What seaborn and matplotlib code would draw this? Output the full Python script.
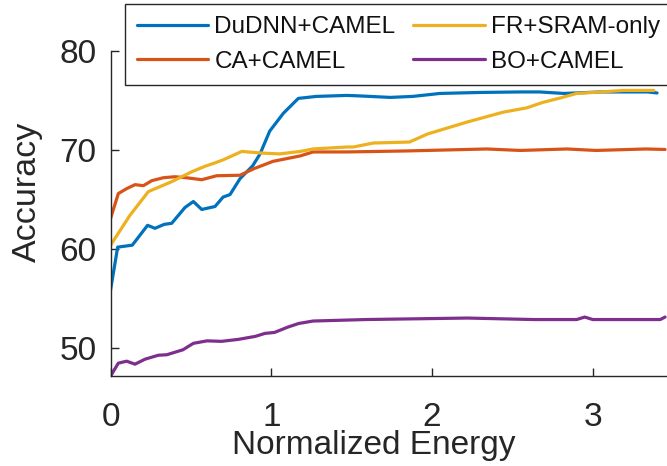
import matplotlib
matplotlib.use("Agg")
import matplotlib.pyplot as plt
import seaborn as sns
import pandas as pd

# Accuracy vs. normalized energy for four design flows
dudnn_x = [0, 0.044, 0.135, 0.23, 0.276, 0.334, 0.38, 0.463, 0.515, 0.567, 0.65, 0.70,
           0.743, 0.805, 0.884, 0.93, 0.99, 1.075, 1.168, 1.28, 1.47, 1.55, 1.74, 1.88,
           2.05, 2.30, 2.55, 2.67, 2.82, 2.90, 3.05, 3.34, 3.40]
dudnn_y = [55.9, 60.2, 60.4, 62.4, 62.1, 62.5, 62.6, 64.2, 64.8, 64.0, 64.3, 65.25,
           65.5, 67.1, 68.4, 69.6, 71.9, 73.7, 75.2, 75.4, 75.5, 75.45, 75.3, 75.4,
           75.7, 75.8, 75.85, 75.85, 75.7, 75.75, 75.85, 75.85, 75.75]

ca_x = [0, 0.048, 0.10, 0.152, 0.204, 0.256, 0.328, 0.40, 0.47, 0.567, 0.66, 0.805,
        0.89, 1.01, 1.18, 1.26, 1.47, 1.84, 2.34, 2.55, 2.84, 3.02, 3.33, 3.45]
ca_y = [63.1, 65.6, 66.1, 66.5, 66.4, 66.9, 67.2, 67.3, 67.2, 67.0, 67.4, 67.45,
        68.1, 68.85, 69.4, 69.8, 69.8, 69.9, 70.1, 69.95, 70.1, 69.95, 70.1, 70.05]

fr_x = [0, 0.12, 0.235, 0.38, 0.505, 0.587, 0.65, 0.70, 0.816, 0.93, 1.05, 1.18, 1.26,
        1.47, 1.51, 1.635, 1.86, 1.97, 2.215, 2.44, 2.59, 2.69, 2.80, 2.90, 3.05, 3.19, 3.38]
fr_y = [60.4, 63.4, 65.8, 66.8, 67.8, 68.35, 68.7, 69.0, 69.85, 69.7, 69.6, 69.85, 70.1,
        70.3, 70.3, 70.7, 70.8, 71.6, 72.8, 73.8, 74.25, 74.8, 75.25, 75.7, 75.85, 76.0, 76.0]

bo_x = [0, 0.048, 0.10, 0.152, 0.214, 0.297, 0.35, 0.45, 0.515, 0.60, 0.69, 0.795, 0.90,
        0.96, 1.02, 1.105, 1.17, 1.26, 1.59, 2.22, 2.63, 2.90, 2.95, 3.00, 3.25, 3.42, 3.45]
bo_y = [47.2, 48.5, 48.7, 48.4, 48.9, 49.3, 49.35, 49.85, 50.5, 50.75, 50.7, 50.9, 51.2,
        51.5, 51.6, 52.15, 52.5, 52.75, 52.9, 53.05, 52.9, 52.9, 53.15, 52.9, 52.9, 52.9, 53.15]

series_names = ["DuDNN+CAMEL", "CA+CAMEL", "FR+SRAM-only", "BO+CAMEL"]
series_colors = ["#0072BD", "#D95319", "#EDB120", "#7E2F8E"]
x_ticks = [0, 1, 2, 3]
y_ticks = [50, 60, 70, 80]

frames = []
for name, xs, ys in zip(series_names,
                        [dudnn_x, ca_x, fr_x, bo_x],
                        [dudnn_y, ca_y, fr_y, bo_y]):
    frames.append(pd.DataFrame({"energy": xs, "accuracy": ys, "method": name}))
df = pd.concat(frames, ignore_index=True)

sns.set_theme(style="ticks")
plt.rcParams["font.family"] = ["Liberation Sans", "DejaVu Sans"]
ink = "#262626"

fig = plt.figure(figsize=(6.67, 4.66), dpi=100)
ax = fig.add_axes([0.1658, 0.193, 0.8342, 0.698])

sns.lineplot(data=df, x="energy", y="accuracy", hue="method",
             hue_order=series_names, palette=series_colors,
             estimator=None, sort=True, linewidth=2.3, ax=ax, legend=False)

ax.set_xlim(0, 3.462)
ax.set_ylim(47.2, 80)
ax.set_xticks(x_ticks)
ax.set_yticks(y_ticks)

for side in ["top", "right"]:
    ax.spines[side].set_visible(False)
for side in ["left", "bottom"]:
    ax.spines[side].set_color(ink)
    ax.spines[side].set_linewidth(1.0)

ax.tick_params(axis="both", direction="in", length=5.5, width=1.0,
               colors=ink, labelsize=24)
ax.tick_params(axis="x", pad=19)
ax.tick_params(axis="y", pad=10)

ax.set_xlabel("Normalized Energy", fontsize=24, color=ink)
ax.set_ylabel("Accuracy", fontsize=24.5, color=ink)
ax.xaxis.set_label_coords(0.473, -0.166)
ax.yaxis.set_label_coords(-0.121, 0.566)

handles = ax.get_lines()[:4]
leg = ax.legend(handles, series_names, ncol=2, loc="upper left",
                bbox_to_anchor=(124.5 / 667, 1 - 4.3 / 466),
                bbox_transform=fig.transFigure,
                fontsize=17.5, frameon=True, fancybox=False,
                handlelength=2.95, handletextpad=0.25, columnspacing=0.72,
                labelspacing=0.5, borderpad=0.5, borderaxespad=0)
leg.get_frame().set_edgecolor(ink)
leg.get_frame().set_linewidth(1.0)
leg.get_frame().set_alpha(1.0)
for t in leg.get_texts():
    t.set_color("#111111")

fig.savefig("out.png", dpi=100)
